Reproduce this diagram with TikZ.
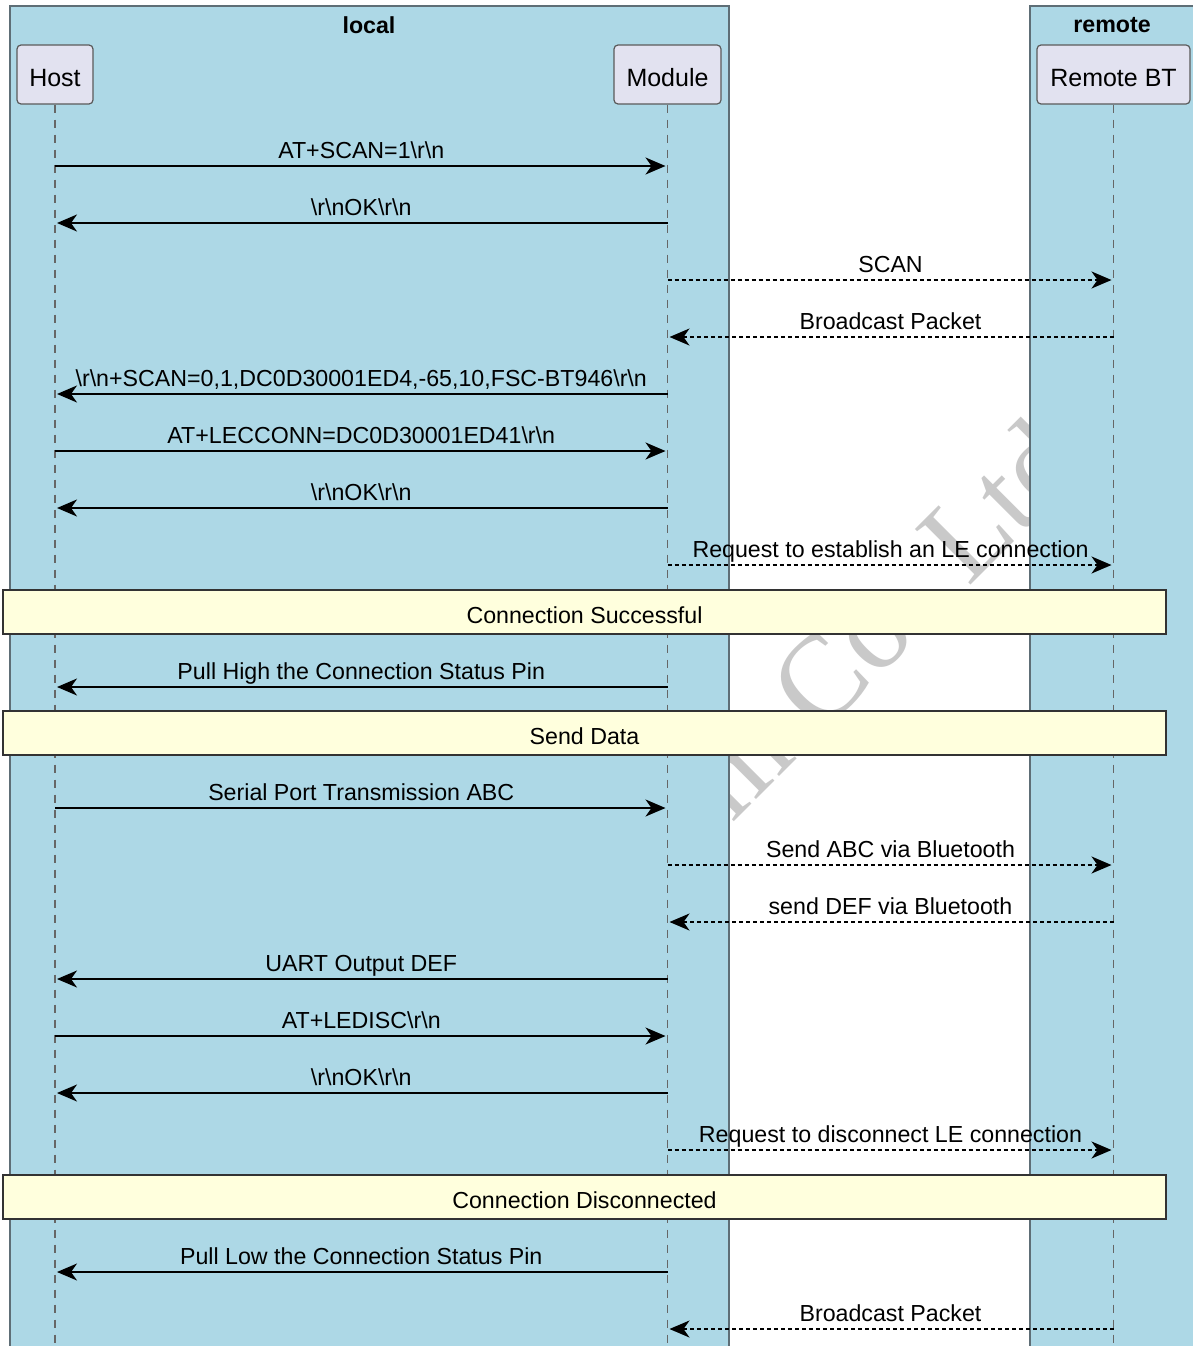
\documentclass[tikz,border=0pt]{standalone}
\usepackage{fontspec}
\setmainfont{Liberation Sans}
\newfontfamily\wmfont{Liberation Serif}
\usetikzlibrary{arrows.meta}
\definecolor{grpblue}{HTML}{ADD8E6}
\definecolor{grpline}{HTML}{5E6E76}
\definecolor{partfill}{HTML}{E2E2F0}
\definecolor{partline}{HTML}{5A5A5A}
\definecolor{notefill}{HTML}{FFFFDD}
\definecolor{wmgray}{HTML}{C9C9C9}
\newcommand\BSL{\textbackslash}
\newcommand\RN{\BSL r\BSL n}
\begin{document}
\begin{tikzpicture}[x=1pt,y=-1pt,
  msgfont/.style={font=\fontsize{23.2}{28}\selectfont},
  grp/.style={fill=grpblue,draw=grpline,line width=1.2pt},
  grptitle/.style={font=\bfseries\fontsize{23.2}{28}\selectfont, inner sep=0pt},
  part/.style={draw=partline, fill=partfill, rounded corners=4pt, line width=1.2pt,
    minimum height=59pt, inner sep=0pt, text height=23pt, text depth=0pt,
    font=\fontsize{25}{30}\selectfont},
  life/.style={draw=black!60, dash pattern=on 8pt off 7pt, line width=1.1pt},
  sync/.style={line width=1.6pt, shorten >=2pt, -{Stealth[length=20pt,width=17pt,inset=6pt]}},
  async/.style={sync, dash pattern=on 4pt off 3pt},
  lbl/.style={msgfont, anchor=base, yshift=8pt, inner sep=0pt, midway},
  notebox/.style={draw=black!80, fill=notefill, line width=1.2pt, minimum width=1163pt,
    minimum height=44pt, inner sep=0pt, text height=22pt, text depth=0pt, msgfont}
]
\useasboundingbox (0,0) rectangle (1192,1346);
\fill[white] (0,0) rectangle (1192,1346);
% watermark (behind boxes)
\node[font=\wmfont\fontsize{120}{120}\selectfont, text=wmgray, rotate=45, anchor=base east, inner sep=0pt]
  (wm) at (1086,470) {Feasycom Co. Ltd};
% groups
\draw[grp] (10,1360) -- (10,6) -- (729,6) -- (729,1360);
\draw[grp] (1030,1360) -- (1030,6) -- (1200,6) -- (1200,1360);
\node[grptitle] (tlocal) at (369,25) {local};
\node[grptitle] (tremote) at (1112,25) {remote};
% participants
\node[part, minimum width=76pt] (Host) at (55,74.5) {Host};
\node[part, minimum width=107pt] (Module) at (667.5,74.5) {Module};
\node[part, minimum width=153pt] (Remote) at (1113.5,74.5) {Remote BT};
\coordinate (bot) at (0,1346);
\draw[life] (Host) -- (Host |- bot);
\draw[life] (Module) -- (Module |- bot);
\draw[life] (Remote) -- (Remote |- bot);
% rows
\coordinate (r1) at (0,166);
\coordinate (r2) at (0,223);
\coordinate (r3) at (0,280);
\coordinate (r4) at (0,337);
\coordinate (r5) at (0,394);
\coordinate (r6) at (0,451);
\coordinate (r7) at (0,508);
\coordinate (r8) at (0,565);
\coordinate (r9) at (0,687);
\coordinate (r10) at (0,808);
\coordinate (r11) at (0,865);
\coordinate (r12) at (0,922);
\coordinate (r13) at (0,979);
\coordinate (r14) at (0,1036);
\coordinate (r15) at (0,1093);
\coordinate (r16) at (0,1150);
\coordinate (r17) at (0,1272);
\coordinate (r18) at (0,1329);
% messages
\draw[sync] (Host |- r1) -- node[lbl] (l1) {AT+SCAN=1\RN} (Module |- r1);
\draw[sync] (Module |- r2) -- node[lbl] (l2) {\RN OK\RN} (Host |- r2);
\draw[async] (Module |- r3) -- node[lbl] (l3) {SCAN} (Remote |- r3);
\draw[async] (Remote |- r4) -- node[lbl] (l4) {Broadcast Packet} (Module |- r4);
\draw[sync] (Module |- r5) -- node[lbl] (l5) {\RN+SCAN=0,1,DC0D30001ED4,-65,10,FSC-BT946\RN} (Host |- r5);
\draw[sync] (Host |- r6) -- node[lbl] (l6) {AT+LECCONN=DC0D30001ED41\RN} (Module |- r6);
\draw[sync] (Module |- r7) -- node[lbl] (l7) {\RN OK\RN} (Host |- r7);
\draw[async] (Module |- r8) -- node[lbl] (l8) {Request to establish an LE connection} (Remote |- r8);
\node[notebox] (n1) at (584.5,612) {Connection Successful};
\draw[sync] (Module |- r9) -- node[lbl] (l9) {Pull High the Connection Status Pin} (Host |- r9);
\node[notebox] (n2) at (584.5,733) {Send Data};
\draw[sync] (Host |- r10) -- node[lbl] (l10) {Serial Port Transmission ABC} (Module |- r10);
\draw[async] (Module |- r11) -- node[lbl] (l11) {Send ABC via Bluetooth} (Remote |- r11);
\draw[async] (Remote |- r12) -- node[lbl] (l12) {send DEF via Bluetooth} (Module |- r12);
\draw[sync] (Module |- r13) -- node[lbl] (l13) {UART Output DEF} (Host |- r13);
\draw[sync] (Host |- r14) -- node[lbl] (l14) {AT+LEDISC\RN} (Module |- r14);
\draw[sync] (Module |- r15) -- node[lbl] (l15) {\RN OK\RN} (Host |- r15);
\draw[async] (Module |- r16) -- node[lbl] (l16) {Request to disconnect LE connection} (Remote |- r16);
\node[notebox] (n3) at (584.5,1197) {Connection Disconnected};
\draw[sync] (Module |- r17) -- node[lbl] (l17) {Pull Low the Connection Status Pin} (Host |- r17);
\draw[async] (Remote |- r18) -- node[lbl] (l18) {Broadcast Packet} (Module |- r18);
\end{tikzpicture}
\end{document}
